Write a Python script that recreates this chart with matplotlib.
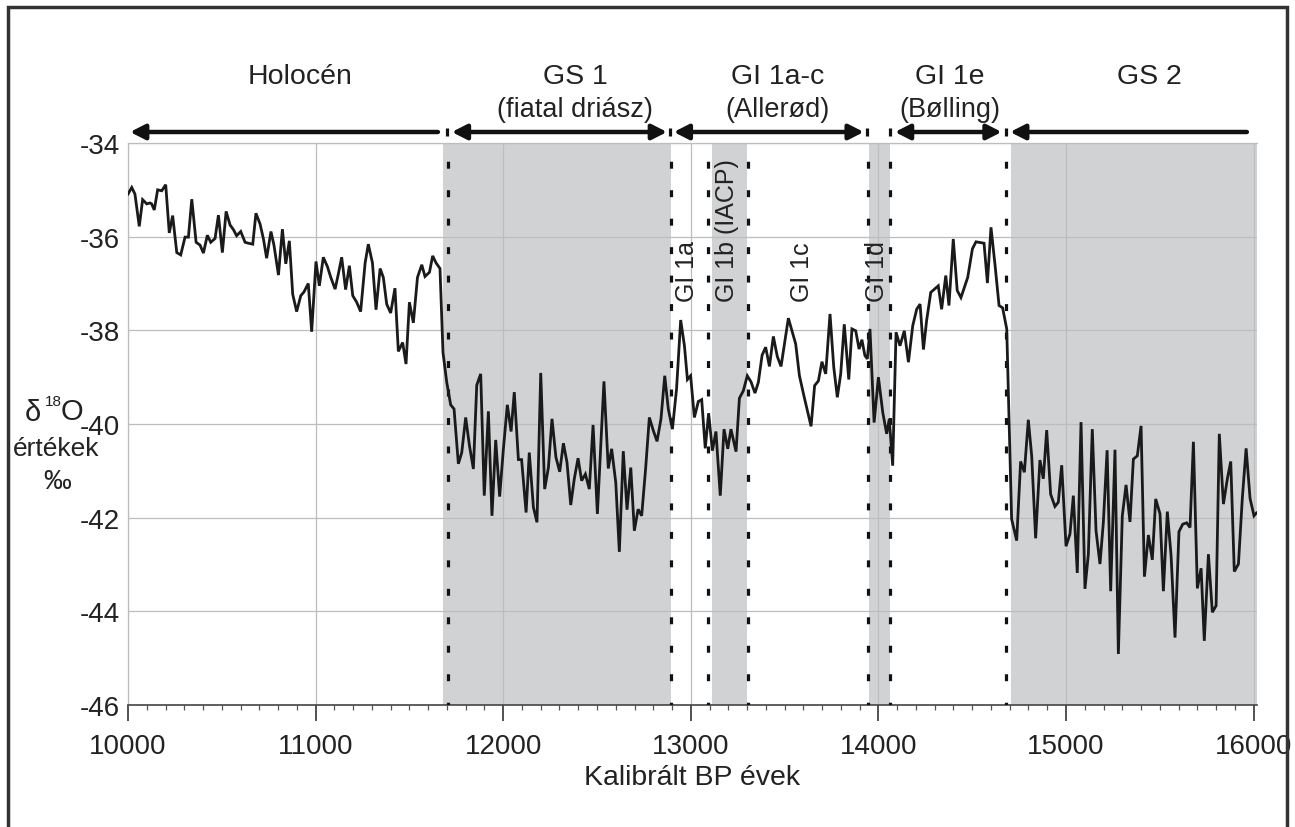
import matplotlib
matplotlib.use("Agg")
import matplotlib.pyplot as plt
import matplotlib.transforms as mtransforms
from matplotlib.patches import Rectangle
from matplotlib.ticker import MultipleLocator

plt.rcParams['font.family'] = ['Liberation Sans', 'DejaVu Sans']
plt.rcParams['lines.scale_dashes'] = False

# ---------------- data ----------------
years = [
    10000, 10020, 10037, 10060, 10078, 10100, 10117, 10126, 10140, 10158, 10180, 10201,
    10220, 10238, 10260, 10281, 10304, 10322, 10340, 10363, 10384, 10402, 10423, 10441,
    10464, 10482, 10503, 10523, 10544, 10562, 10579, 10601, 10624, 10642, 10665, 10682,
    10704, 10722, 10739, 10762, 10778, 10802, 10823, 10841, 10860, 10878, 10899, 10921,
    10938, 10961, 10979, 11002, 11020, 11041, 11063, 11081, 11104, 11121, 11139, 11160,
    11180, 11198, 11219, 11240, 11264, 11281, 11303, 11322, 11344, 11361, 11379, 11400,
    11423, 11441, 11464, 11482, 11500, 11521, 11543, 11566, 11583, 11607, 11624, 11642,
    11663, 11679, 11699, 11720, 11738, 11761, 11779, 11800, 11820, 11841, 11859, 11880,
    11899, 11921, 11940, 11960, 11981, 12001, 12022, 12042, 12059, 12081, 12098, 12122,
    12139, 12161, 12180, 12200, 12221, 12241, 12260, 12281, 12301, 12321, 12340, 12360,
    12379, 12399, 12418, 12438, 12459, 12479, 12502, 12537, 12560, 12578, 12600, 12619,
    12640, 12660, 12680, 12699, 12719, 12738, 12759, 12779, 12800, 12820, 12841, 12861,
    12880, 12902, 12924, 12946, 12966, 12982, 12999, 13019, 13040, 13058, 13077, 13095,
    13115, 13134, 13157, 13177, 13197, 13214, 13241, 13259, 13280, 13301, 13321, 13342,
    13360, 13380, 13399, 13419, 13440, 13461, 13481, 13520, 13559, 13579, 13603, 13641,
    13660, 13680, 13699, 13719, 13742, 13762, 13781, 13799, 13818, 13842, 13859, 13879,
    13897, 13912, 13928, 13941, 13955, 13977, 14000, 14023, 14044, 14058, 14076, 14094,
    14115, 14138, 14160, 14183, 14204, 14222, 14240, 14257, 14279, 14319, 14337, 14359,
    14376, 14399, 14420, 14440, 14476, 14501, 14520, 14563, 14581, 14600, 14622, 14643,
    14662, 14684, 14710, 14737, 14758, 14778, 14799, 14817, 14838, 14861, 14879, 14897,
    14918, 14941, 14959, 14977, 15000, 15021, 15039, 15060, 15080, 15101, 15119, 15140,
    15160, 15181, 15199, 15219, 15238, 15261, 15279, 15300, 15320, 15341, 15359, 15380,
    15400, 15418, 15439, 15460, 15478, 15501, 15519, 15540, 15560, 15581, 15602, 15622,
    15643, 15661, 15679, 15700, 15720, 15737, 15759, 15780, 15800, 15817, 15839, 15860,
    15878, 15897, 15919, 15940, 15960, 15981, 16002, 16015,
]
d18o = [
    -35.09, -34.95, -35.09, -35.78, -35.21, -35.30, -35.28, -35.30, -35.43, -35.00, -35.02, -34.89,
    -35.92, -35.55, -36.34, -36.39, -36.01, -36.01, -35.20, -36.12, -36.18, -36.35, -35.97, -36.12,
    -36.04, -35.54, -36.34, -35.46, -35.75, -35.85, -35.98, -35.89, -36.12, -36.14, -36.16, -35.50,
    -35.73, -36.05, -36.46, -35.89, -36.18, -36.82, -35.84, -36.58, -36.09, -37.23, -37.60, -37.26,
    -37.18, -37.00, -38.03, -36.53, -37.05, -36.44, -36.64, -36.87, -37.12, -36.80, -36.44, -37.13,
    -36.62, -37.26, -37.40, -37.60, -36.56, -36.16, -36.56, -37.56, -36.68, -36.87, -37.44, -37.63,
    -37.10, -38.45, -38.26, -38.72, -37.40, -37.84, -36.87, -36.60, -36.85, -36.76, -36.41, -36.56,
    -36.68, -38.47, -39.11, -39.59, -39.68, -40.85, -40.61, -39.86, -40.46, -40.96, -39.17, -38.93,
    -41.53, -39.73, -41.96, -40.34, -41.55, -40.53, -39.59, -40.16, -39.32, -40.76, -40.76, -41.89,
    -40.61, -41.78, -42.10, -38.91, -41.39, -40.93, -39.89, -40.71, -41.02, -40.41, -40.82, -41.73,
    -41.17, -40.73, -41.21, -41.07, -41.39, -40.02, -41.92, -39.09, -40.95, -40.53, -41.25, -42.73,
    -40.58, -41.83, -40.93, -42.28, -41.82, -41.96, -40.96, -39.86, -40.14, -40.37, -39.89, -38.97,
    -39.68, -40.11, -39.25, -37.78, -38.33, -39.05, -38.97, -39.86, -39.52, -39.48, -40.52, -39.77,
    -40.57, -40.16, -41.53, -40.11, -40.53, -40.11, -40.59, -39.45, -39.29, -38.97, -39.10, -39.34,
    -39.11, -38.53, -38.36, -38.77, -38.13, -38.56, -38.77, -37.74, -38.29, -38.97, -39.40, -40.05,
    -39.18, -39.08, -38.67, -38.93, -37.65, -38.79, -39.43, -38.93, -37.87, -39.05, -37.97, -38.01,
    -38.40, -38.20, -38.54, -38.61, -37.97, -39.97, -39.00, -39.75, -40.21, -39.89, -40.89, -38.04,
    -38.33, -38.01, -38.68, -37.90, -37.55, -37.44, -38.41, -37.79, -37.19, -37.05, -37.55, -36.83,
    -37.47, -36.05, -37.15, -37.30, -36.87, -36.26, -36.11, -36.14, -36.99, -35.80, -36.62, -37.47,
    -37.52, -37.97, -42.03, -42.49, -40.80, -41.03, -39.91, -40.68, -42.44, -40.77, -41.17, -40.13,
    -41.50, -41.76, -41.67, -40.88, -42.61, -42.35, -41.53, -43.18, -39.96, -43.52, -42.78, -40.11,
    -42.28, -42.99, -42.10, -40.56, -43.57, -40.55, -44.91, -41.96, -41.30, -42.09, -40.75, -40.68,
    -40.04, -43.26, -42.37, -42.90, -41.60, -41.92, -43.57, -41.87, -42.81, -44.56, -42.30, -42.14,
    -42.11, -42.21, -40.38, -43.51, -43.08, -44.63, -42.78, -44.02, -43.88, -40.21, -41.71, -41.17,
    -40.80, -43.15, -42.99, -41.57, -40.52, -41.59, -41.96, -41.90,
]

# shaded stadials / sub-events (start, end in cal BP)
shade_start = [11680, 13113, 13950, 14707]
shade_end = [12893, 13298, 14064, 16018]
# dotted boundaries
boundaries = [11704, 12893, 13092, 13305, 13947, 14064, 14678]

# period headers
period_lines1 = ["Holocén", "GS 1", "GI 1a-c", "GI 1e", "GS 2"]
period_lines2 = ["", "(fiatal driász)", "(Allerød)", "(Bølling)", ""]
period_centers = [10917, 12383, 13462, 14382, 15442]
# arrows: (start, end, style)
arrow_from = [11652, 11726, 12909, 14088, 15964]
arrow_to = [10011, 12873, 13922, 14657, 14702]
arrow_styles = ['-|>', '<|-|>', '<|-|>', '<|-|>', '-|>']
arrow_ticks = [11701, 12890, 13940, 14062, 14678]

# vertical sub-event labels
sub_labels = ["GI 1a", "GI 1b (IACP)", "GI 1c", "GI 1d"]
sub_x = [12980, 13193, 13593, 13993]
sub_y = -37.37

xticks = [10000, 11000, 12000, 13000, 14000, 15000, 16000]
yticks = [-34, -36, -38, -40, -42, -44, -46]

# ---------------- figure ----------------
W, H = 1295, 828
fig = plt.figure(figsize=(W / 100, H / 100), dpi=100)
L, R, T, B = 128, 1257, 144, 706
ax = fig.add_axes([L / W, 1 - B / H, (R - L) / W, (B - T) / H])

ax.set_xlim(10000, 16018)
ax.set_ylim(-46, -34)

shade = '#d1d2d4'
for s, e in zip(shade_start, shade_end):
    ax.axvspan(s, e, color=shade, lw=0, zorder=0)

ax.set_xticks(xticks)
ax.set_yticks(yticks)
ax.set_xticklabels([str(v) for v in xticks])
ax.set_yticklabels([str(v) for v in yticks])
ax.xaxis.set_minor_locator(MultipleLocator(100))
ax.grid(True, which='major', color='#bdbdbd', lw=0.9, zorder=1)
ax.set_axisbelow(True)

txtc = '#222222'
ax.tick_params(axis='x', which='major', direction='out', length=11.5, width=1.2,
               color='#333333', labelsize=20, pad=9, labelcolor=txtc)
ax.tick_params(axis='x', which='minor', direction='out', length=3.5, width=0.9,
               color='#555555')
ax.tick_params(axis='y', which='major', length=0, labelsize=20, pad=6,
               labelcolor=txtc)

for side in ['left', 'top']:
    ax.spines[side].set_color('#bdbdbd')
    ax.spines[side].set_linewidth(0.9)
ax.spines['right'].set_visible(False)
ax.spines['bottom'].set_color('#444444')
ax.spines['bottom'].set_linewidth(1.2)

for bx in boundaries:
    ax.axvline(bx, color='#111111', lw=2.3, linestyle=(3, (5, 15.5)), zorder=3)

ax.plot(years, d18o, color='#1a1a1a', lw=2.0, zorder=4, solid_joinstyle='miter')

trans = mtransforms.blended_transform_factory(ax.transData, ax.transAxes)
ah = B - T
y_arrow = 1 + 11 / ah
for a0, a1, st in zip(arrow_from, arrow_to, arrow_styles):
    ax.annotate('', xy=(a1, y_arrow), xytext=(a0, y_arrow), xycoords=trans,
                textcoords=trans, annotation_clip=False,
                arrowprops=dict(arrowstyle=st + ',head_length=0.55,head_width=0.28',
                                lw=3.2, color='#111111', shrinkA=0, shrinkB=0,
                                mutation_scale=16))
for tx in arrow_ticks:
    ax.plot([tx, tx], [y_arrow - 4 / ah, y_arrow + 4 / ah], transform=trans,
            color='#111111', lw=2.3, clip_on=False, solid_capstyle='butt')

for c, l1, l2 in zip(period_centers, period_lines1, period_lines2):
    ax.text(c, 1 + 67 / ah, l1, transform=trans, ha='center', va='center',
            fontsize=20.5, color=txtc)
    if l2:
        ax.text(c, 1 + 34 / ah, l2, transform=trans, ha='center', va='center',
                fontsize=19.5, color=txtc)

for sx, lab in zip(sub_x, sub_labels):
    ax.text(sx, sub_y, lab, rotation=90, ha='center', va='bottom', fontsize=18,
            color=txtc, zorder=5)

ax.set_xlabel('Kalibrált BP évek', fontsize=20.5, color=txtc)
ax.xaxis.set_label_coords(0.5, -(778 - B) / ah)
ax.xaxis.label.set_va('center')

# y-axis label pieces (figure pixel positions)
def ftext(x, y, s, size):
    fig.text(x / W, 1 - y / H, s, ha='center', va='center', fontsize=size,
             color=txtc)

ftext(33, 413, 'δ', 21)
ftext(53, 402, '18', 11)
ftext(72, 412, 'O', 21)
ftext(56, 449, 'értékek', 19)
ftext(57, 482, '‰', 20)

# outer frame
fig.patches.append(Rectangle((8 / W, -0.05), (1287 - 8) / W, 1.05 - 8 / H,
                             transform=fig.transFigure, fill=False,
                             edgecolor='#333333', lw=2.5))

fig.savefig('out.png', dpi=100)
